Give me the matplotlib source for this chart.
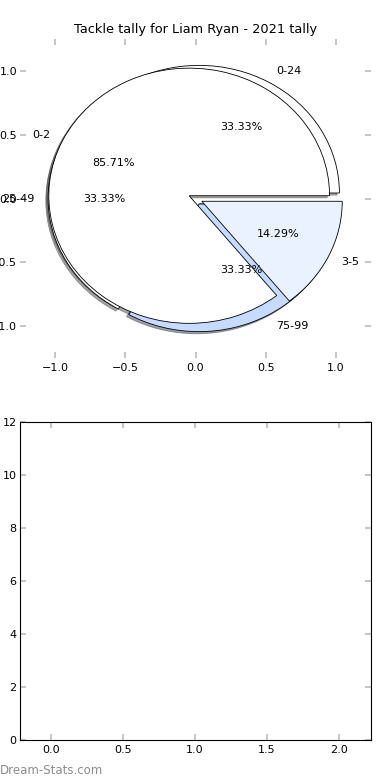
import numpy as np
import matplotlib
matplotlib.use("Agg")
import matplotlib.pyplot as plt

# data
title = "Tackle tally for Liam Ryan - 2021 tally"
range_labels = ["0-24", "25-49", "75-99"]
range_values = [1, 1, 1]
range_colors = ["#ffffff", "#ffffff", "#c6dbff"]
count_labels = ["0-2", "3-5"]
count_values = [6, 1]
count_colors = ["#ffffff", "#ebf2ff"]
pie_ticks = [-1.0, -0.5, 0.0, 0.5, 1.0]
bar_xlim = [-0.22, 2.22]
bar_ylim = [0, 12]

plt.rcParams['font.family'] = ['DejaVu Sans']
plt.rcParams['font.size'] = 8

fig = plt.figure(figsize=(3.9, 7.8), dpi=100)
ax1 = fig.add_axes([0.0513, 0.541, 0.9, 0.409])
ax2 = fig.add_axes([0.05, 0.0513, 0.9, 0.408])

wp = {"edgecolor": "black", "linewidth": 0.6}
shd = {"ox": -0.012, "oy": -0.012}
ax1.pie(range_values, labels=range_labels, colors=range_colors,
        explode=[0.05]*len(range_values), autopct="%1.2f%%",
        shadow=shd, wedgeprops=wp, textprops={"fontsize": 8})
ax1.pie(count_values, labels=count_labels, colors=count_colors,
        explode=[0.05]*len(count_values), autopct="%1.2f%%",
        shadow=shd, wedgeprops=wp, textprops={"fontsize": 8})
ax1.set_aspect("auto")
ax1.set_xlim(-1.25, 1.25)
ax1.set_ylim(-1.25, 1.25)
ax1.set_xticks(pie_ticks)
ax1.set_yticks(pie_ticks)
ax1.set_title(title, fontsize=9.3, pad=4)

ax2.set_xlim(bar_xlim)
ax2.set_ylim(bar_ylim)
ax2.set_xticks(np.arange(0, 2.01, 0.5))
ax2.set_yticks(np.arange(0, 13, 2))

for ax in (ax1, ax2):
  ax.tick_params(direction="in", top=True, right=True, length=4,
      width=1.2, color="#bbbbbb", labelsize=8)
  ax.tick_params(axis="x", pad=3.5)
  ax.tick_params(axis="y", pad=2)

fig.text(0.0, 0.008, "Dream-Stats.com", color="#8c8c8c",
    fontsize=8.5)

fig.savefig("out.png", dpi=100)
